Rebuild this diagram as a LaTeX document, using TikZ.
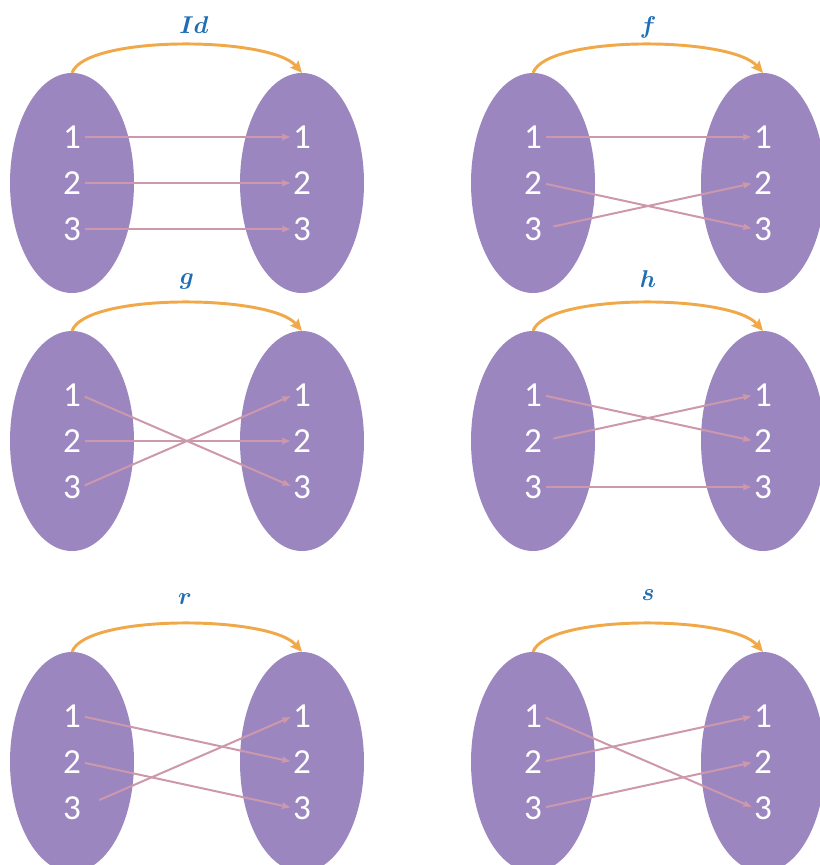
\documentclass[tikz,border=0pt]{standalone}
\usepackage{fontspec}
\usepackage{amsmath}
\usetikzlibrary{shapes.geometric,arrows.meta,calc}
\newfontfamily\carlito{Carlito}
\definecolor{setpurple}{RGB}{155,134,192}
\definecolor{mappink}{RGB}{205,152,172}
\definecolor{arcorange}{RGB}{240,168,72}
\definecolor{labblue}{RGB}{31,110,180}
\tikzset{
  setell/.style={ellipse,fill=setpurple,draw=none,inner sep=0pt,outer sep=0pt,minimum width=3.72cm,minimum height=6.6cm},
  digit/.style={text=white,inner sep=0pt,outer sep=0pt,font=\carlito\fontsize{30}{36}\selectfont},
  maparrow/.style={draw=mappink,line width=1.7pt,-{Stealth[length=7pt,width=5.5pt,inset=1pt]},shorten <=3.5pt,shorten >=2.5pt},
  late/.style={shorten <=10pt},
  vlate/.style={shorten <=17pt},
  maparc/.style={draw=arcorange,line width=2.5pt,-{Stealth[length=10pt,width=9pt,inset=1.5pt]}},
  lab/.style={text=labblue,anchor=base,inner sep=0pt,font=\huge}
}
\newcommand\basepanel[7]{% #1 prefix, #2 cx, #3 cy, #4 label, #5 label x, #6 label base y, #7 digit dy
  \node[setell] (#1L) at (#2,#3) {};
  \node[setell] (#1R) at (#2+230,#3) {};
  \foreach \i/\dy in {1/-#7,2/0,3/#7} {
    \node[digit] (#1a\i) at (#2,#3+\dy) {\i};
    \node[digit] (#1b\i) at (#2+230,#3+\dy) {\i};
  }
  \draw[maparc] (#1L.north) .. controls ($(#1L.north)+(13,-38)$) and ($(#1R.north)+(-32,-37)$) .. (#1R.north);
  \node[lab] (#1t) at (#5,#6) {$\boldsymbol{#4}$};
}
\begin{document}
\begin{tikzpicture}[x=0.03cm,y=-0.03cm]
\clip (0,0) rectangle (820,865);
\fill[white] (0,0) rectangle (820,865);
% Id
\basepanel{A}{72}{183}{Id}{194}{33}{46}
\draw[maparrow] (Aa1.east) -- (Ab1.west);
\draw[maparrow] (Aa2.east) -- (Ab2.west);
\draw[maparrow] (Aa3.east) -- (Ab3.west);
% f
\basepanel{B}{533}{183}{f}{648}{33}{46}
\draw[maparrow] (Ba1.east) -- (Bb1.west);
\draw[maparrow] (Ba2.east) -- (Bb3.west);
\draw[maparrow,late] (Ba3.east) -- (Bb2.west);
% g
\basepanel{C}{72}{441}{g}{187}{284}{46}
\draw[maparrow] (Ca1.east) -- (Cb3.west);
\draw[maparrow] (Ca2.east) -- (Cb2.west);
\draw[maparrow] (Ca3.east) -- (Cb1.west);
% h
\basepanel{D}{533}{441}{h}{648}{287}{46}
\draw[maparrow] (Da1.east) -- (Db2.west);
\draw[maparrow,late] (Da2.east) -- (Db1.west);
\draw[maparrow] (Da3.east) -- (Db3.west);
% r
\basepanel{E}{72}{762}{r}{185}{604}{46}
\draw[maparrow] (Ea1.east) -- (Eb2.west);
\draw[maparrow] (Ea2.east) -- (Eb3.west);
\draw[maparrow,vlate] (Ea3.east) -- (Eb1.west);
% s
\basepanel{F}{533}{762}{s}{648}{600}{46}
\draw[maparrow] (Fa1.east) -- (Fb3.west);
\draw[maparrow] (Fa2.east) -- (Fb1.west);
\draw[maparrow] (Fa3.east) -- (Fb2.west);
\end{tikzpicture}
\end{document}
